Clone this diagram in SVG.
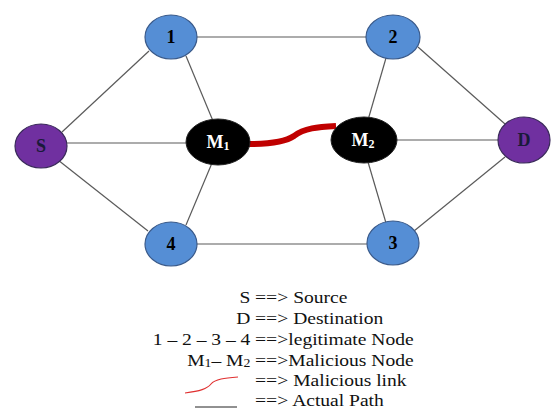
<svg xmlns="http://www.w3.org/2000/svg" width="551" height="409" viewBox="0 0 551 409">
<style>
.edge{stroke:#5a5a5a;stroke-width:1.2;fill:none}
.leg{stroke:#3a5a8a;stroke-width:1.2}
.pur{fill:#7030a0;stroke:#3a2a5a;stroke-width:1.2}
.mal{fill:#000;stroke:#222;stroke-width:1}
.lbl{font-family:"Liberation Serif",serif;font-weight:bold;font-size:18px;text-anchor:middle}
.lt{font-family:"Liberation Serif",serif;font-size:17px;fill:#111}
</style>
<g id="connectors">
<line class="edge" x1="62" y1="132" x2="149" y2="51"/>
<line class="edge" x1="58" y1="160" x2="148" y2="231"/>
<line class="edge" x1="67" y1="143" x2="190" y2="143"/>
<line class="edge" x1="197" y1="37" x2="366" y2="37"/>
<line class="edge" x1="186" y1="56" x2="213" y2="121"/>
<line class="edge" x1="186" y1="225" x2="212" y2="163"/>
<line class="edge" x1="386" y1="58" x2="368" y2="120"/>
<line class="edge" x1="386" y1="223" x2="368" y2="162"/>
<line class="edge" x1="418" y1="47" x2="505" y2="124"/>
<line class="edge" x1="414" y1="231" x2="505" y2="157"/>
<line class="edge" x1="392" y1="140" x2="498" y2="140"/>
<line class="edge" x1="197" y1="244" x2="367" y2="244"/>
<path d="M248 144 C266 144 284 143 294 136 C304 128 318 127 336 126" stroke="#c00000" stroke-width="6" fill="none"/>
</g>
<g id="node-1"><ellipse class="leg" cx="171" cy="37" rx="26" ry="22" fill="#558ed5"/><text class="lbl" x="171" y="43">1</text></g>
<g id="node-2"><ellipse class="leg" cx="393" cy="37" rx="27" ry="22" fill="#558ed5"/><text class="lbl" x="393" y="43">2</text></g>
<g id="node-3"><ellipse class="leg" cx="393" cy="243" rx="26" ry="22" fill="#558ed5"/><text class="lbl" x="393" y="249">3</text></g>
<g id="node-4"><ellipse class="leg" cx="171" cy="244" rx="26" ry="22" fill="#558ed5"/><text class="lbl" x="171" y="250">4</text></g>
<g id="node-S"><ellipse class="pur" cx="41" cy="146" rx="26" ry="22"/><text class="lbl" x="41" y="152" fill="#1a1a3a">S</text></g>
<g id="node-D"><ellipse class="pur" cx="524" cy="140" rx="26" ry="23"/><text class="lbl" x="524" y="146" fill="#1a1a3a">D</text></g>
<g id="node-M1"><ellipse class="mal" cx="218" cy="142" rx="32" ry="23"/><text class="lbl" x="218" y="148" fill="#fff" font-size="17">M<tspan font-size="12" dy="2">1</tspan></text></g>
<g id="node-M2"><ellipse class="mal" cx="364" cy="140" rx="33" ry="23"/><text class="lbl" x="363" y="146" fill="#fff" font-size="17">M<tspan font-size="12" dy="2">2</tspan></text></g>
<g id="legend">
<g transform="matrix(1.15 0 0 1 -38.25 0)">
<text class="lt" x="251" y="303" text-anchor="end">S</text>
<text class="lt" x="255" y="303"><tspan textLength="29" lengthAdjust="spacingAndGlyphs">==&gt;</tspan> Source</text>
<text class="lt" x="251" y="324" text-anchor="end">D</text>
<text class="lt" x="255" y="324"><tspan textLength="29" lengthAdjust="spacingAndGlyphs">==&gt;</tspan> Destination</text>
<text class="lt" x="251" y="345" text-anchor="end">1 – 2 – 3 – 4</text>
<text class="lt" x="255" y="345"><tspan textLength="29" lengthAdjust="spacingAndGlyphs">==&gt;</tspan>legitimate Node</text>
<text class="lt" x="251" y="366" text-anchor="end">M<tspan font-size="12" dy="1">1</tspan><tspan dy="-1">– M</tspan><tspan font-size="12" dy="1">2</tspan></text>
<text class="lt" x="255" y="366"><tspan textLength="29" lengthAdjust="spacingAndGlyphs">==&gt;</tspan>Malicious  Node</text>
<text class="lt" x="255" y="386"><tspan textLength="29" lengthAdjust="spacingAndGlyphs">==&gt;</tspan> Malicious link</text>
<text class="lt" x="255" y="406"><tspan textLength="29" lengthAdjust="spacingAndGlyphs">==&gt;</tspan> Actual Path</text>
</g>
<path d="M185 393 C200 391 207 389 211 384 C215 379 225 378 238 377" stroke="#e03030" stroke-width="1.2" fill="none"/>
<line x1="195" y1="407" x2="237" y2="407" stroke="#222" stroke-width="1"/>
</g>
</svg>
